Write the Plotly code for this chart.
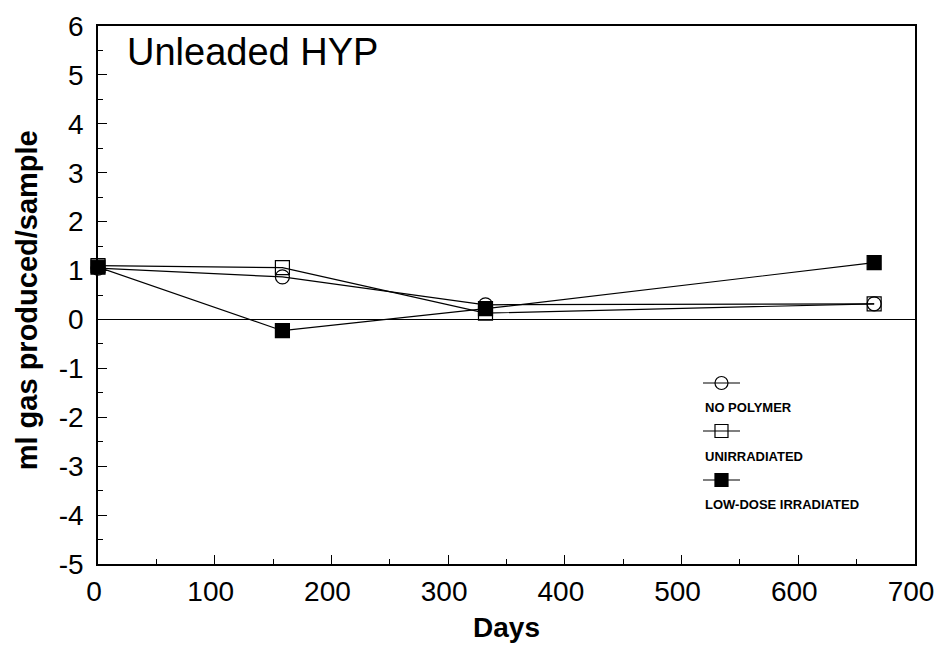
import plotly.graph_objects as go

# ---- data ----
days_no_polymer = [0, 158, 332, 665]
vals_no_polymer = [1.05, 0.87, 0.30, 0.32]

days_unirradiated = [0, 158, 332, 665]
vals_unirradiated = [1.10, 1.06, 0.13, 0.32]

days_low_dose = [0, 158, 332, 665]
vals_low_dose = [1.07, -0.23, 0.22, 1.16]

series_names = ["NO POLYMER", "UNIRRADIATED", "LOW-DOSE IRRADIATED"]

x_tickvals = [0, 100, 200, 300, 400, 500, 600, 700]
x_ticktext = ["0", "100", "200", "300", "400", "500", "600", "700"]
y_tickvals = [-5, -4, -3, -2, -1, 0, 1, 2, 3, 4, 5, 6]
y_ticktext = ["-5", "-4", "-3", "-2", "-1", "0", "1", "2", "3", "4", "5", "6"]

FONT = "Arial, Liberation Sans, sans-serif"
BLACK = "#000000"

styles = [
    dict(symbol="circle-open", color=BLACK),
    dict(symbol="square-open", color=BLACK),
    dict(symbol="square", color=BLACK),
]
series = [
    (days_no_polymer, vals_no_polymer),
    (days_unirradiated, vals_unirradiated),
    (days_low_dose, vals_low_dose),
]

fig = go.Figure()
for (xs, ys), name, st in zip(series, series_names, styles):
    fig.add_trace(go.Scatter(
        x=xs, y=ys, name=name, mode="lines+markers",
        line=dict(color=BLACK, width=1.2),
        marker=dict(symbol=st["symbol"], size=14, color=st["color"],
                    line=dict(color=BLACK, width=1.2)),
        cliponaxis=False, showlegend=False,
    ))

# ---- custom legend (sample above label) on a hidden overlay axis ----
leg_x0, leg_x1 = 0.7405, 0.7858
leg_sample_y = [0.3364, 0.2472, 0.1561]
leg_text_y = [0.2918, 0.2007, 0.1097]
for name, st, sy in zip(series_names, styles, leg_sample_y):
    fig.add_trace(go.Scatter(
        x=[leg_x0, leg_x1], y=[sy, sy], mode="lines", xaxis="x2", yaxis="y2",
        line=dict(color=BLACK, width=1.2), showlegend=False, hoverinfo="skip",
    ))
    fig.add_trace(go.Scatter(
        x=[(leg_x0 + leg_x1) / 2], y=[sy], mode="markers", xaxis="x2", yaxis="y2",
        marker=dict(symbol=st["symbol"], size=13, color=st["color"],
                    line=dict(color=BLACK, width=1.2)),
        showlegend=False, hoverinfo="skip",
    ))
for name, ty in zip(series_names, leg_text_y):
    fig.add_annotation(
        x=leg_x0, y=ty, xref="paper", yref="paper", text=f"<b>{name}</b>",
        showarrow=False, xanchor="left", yanchor="middle",
        font=dict(family=FONT, size=13, color=BLACK),
    )

fig.add_annotation(
    x=0.033, y=0.952, xref="paper", yref="paper", text="Unleaded HYP",
    showarrow=False, xanchor="left", yanchor="middle",
    font=dict(family=FONT, size=38, color=BLACK),
)

fig.add_annotation(
    x=-0.087, y=0.49, xref="paper", yref="paper", text="<b>ml gas produced/sample</b>",
    showarrow=False, xanchor="center", yanchor="middle", textangle=-90,
    font=dict(family=FONT, size=29, color=BLACK),
)

# the page body adds an 8px margin; figure size/margins compensate for it
fig.update_layout(
    width=934, height=635,
    margin=dict(l=90, r=27, t=18, b=79),
    paper_bgcolor="white", plot_bgcolor="white",
    font=dict(family=FONT, color=BLACK),
    xaxis=dict(
        range=[0, 700], tickvals=x_tickvals, ticktext=x_ticktext,
        ticks="inside", ticklen=9, tickwidth=1.2, tickcolor=BLACK,
        minor=dict(ticks="inside", dtick=50, ticklen=5, tickwidth=1, tickcolor=BLACK),
        showline=True, linecolor=BLACK, linewidth=1.5, mirror=True,
        showgrid=False, zeroline=False, ticklabelstandoff=2, ticklabelshift=-4,
        automargin=False, ticklabeloverflow="allow",
        tickfont=dict(family=FONT, size=28, color=BLACK),
        title=dict(text="<b>Days</b>", font=dict(family=FONT, size=28, color=BLACK), standoff=16),
    ),
    yaxis=dict(
        range=[-5, 6], tickvals=y_tickvals, ticktext=y_ticktext,
        ticks="inside", ticklen=9, tickwidth=1.2, tickcolor=BLACK,
        minor=dict(ticks="inside", dtick=0.5, ticklen=5, tickwidth=1, tickcolor=BLACK),
        showline=True, linecolor=BLACK, linewidth=1.5, mirror=True,
        showgrid=False, zeroline=True, zerolinecolor=BLACK, zerolinewidth=1.3,
        ticklabelstandoff=7, automargin=False,
        tickfont=dict(family=FONT, size=28, color=BLACK),
    ),
    xaxis2=dict(range=[0, 1], overlaying="x", visible=False, fixedrange=True),
    yaxis2=dict(range=[0, 1], overlaying="y", visible=False, fixedrange=True),
)

fig.write_html("out.html")
